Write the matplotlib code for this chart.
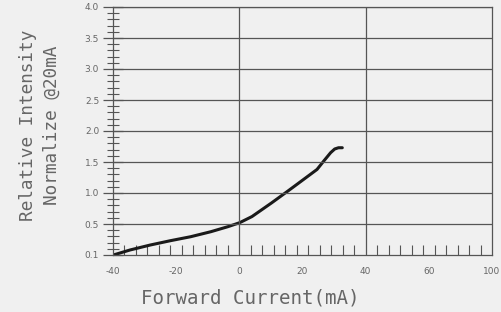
import matplotlib.pyplot as plt
from matplotlib.ticker import MultipleLocator

# curve
current_ma = [-39.9, -34.6, -28.2, -21.8, -15.4, -9.0, -3.6, 0.1, 4.0, 10.2, 15.6,
              20.9, 24.6, 26.8, 28.9, 30.2, 31.4, 32.6]
rel_intensity = [0.0, 0.081, 0.161, 0.231, 0.295, 0.376, 0.457, 0.521, 0.62, 0.84, 1.04,
                 1.24, 1.38, 1.52, 1.65, 1.71, 1.73, 1.73]

x_ticks = [-40, -20, 0, 20, 40, 60, 80]
x_tick_labels = ['-40', '-20', '0', '20', '40', '60', '100']
y_ticks = [0, 0.5, 1.0, 1.5, 2.0, 2.5, 3.0, 3.5, 4.0]
y_tick_labels = ['0.1', '0.5', '1.0', '1.5', '2.0', '2.5', '3.0', '3.5', '4.0']

bg = '#f0f0f0'
grid_col = '#555555'
text_col = '#666666'

fig = plt.figure(figsize=(5.02, 3.12), dpi=100, facecolor=bg)
ax = fig.add_axes([113/502, 1 - 255/312, (492 - 113)/502, (255 - 7)/312])
ax.set_facecolor(bg)

ax.plot(current_ma, rel_intensity, color='#1a1a1a', lw=2.2,
        solid_capstyle='round', solid_joinstyle='round')

ax.set_xlim(-40, 80)
ax.set_ylim(0, 4)
ax.set_xticks(x_ticks)
ax.set_xticklabels(x_tick_labels)
ax.set_yticks(y_ticks)
ax.set_yticklabels(y_tick_labels)
ax.xaxis.set_minor_locator(MultipleLocator(40/11))
ax.yaxis.set_minor_locator(MultipleLocator(0.1))

# horizontal grid every 0.5, vertical only at 0 and 40
for y in y_ticks[1:]:
    ax.axhline(y, color=grid_col, lw=0.9)
for x in [0, 40]:
    ax.axvline(x, color=grid_col, lw=0.9)

for s in ax.spines.values():
    s.set_color(grid_col)
    s.set_linewidth(0.9)

ax.tick_params(axis='y', which='major', direction='inout', length=14, width=0.9,
               color=grid_col, labelsize=6.5, labelcolor=text_col, pad=3)
ax.tick_params(axis='y', which='minor', direction='inout', length=8, width=0.8, color=grid_col)
ax.tick_params(axis='x', which='major', length=0, labelsize=6.5, labelcolor=text_col, pad=9)
ax.tick_params(axis='x', which='minor', direction='in', length=7, width=0.8, color=grid_col)

fig.text(250/502, 1 - 298/312, 'Forward Current(mA)', family='DejaVu Sans Mono',
         fontsize=13.8, color=text_col, ha='center', va='center')
fig.text(28/502, 1 - 125/312, 'Relative Intensity', family='DejaVu Sans Mono',
         fontsize=12.8, color=text_col, ha='center', va='center', rotation=90)
fig.text(52/502, 1 - 125/312, 'Normalize @20mA', family='DejaVu Sans Mono',
         fontsize=12.8, color=text_col, ha='center', va='center', rotation=90)

fig.savefig('out.png', dpi=100, facecolor=bg)
